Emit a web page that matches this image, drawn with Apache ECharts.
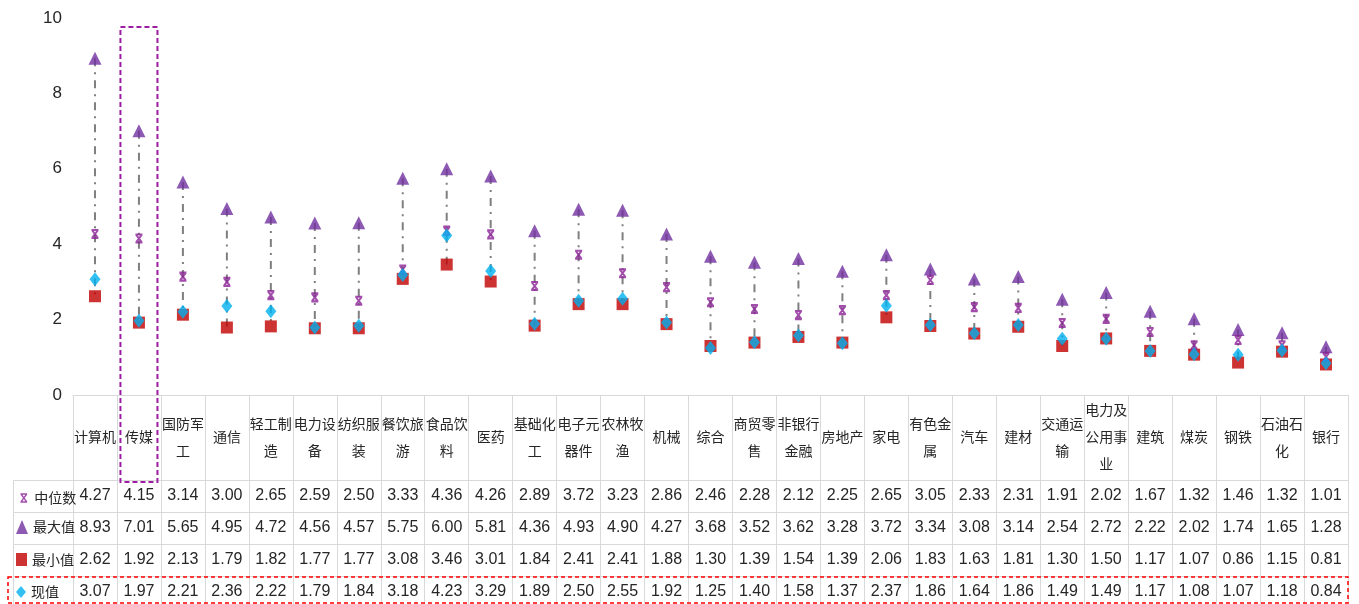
<!DOCTYPE html>
<html>
<head>
<meta charset="utf-8">
<script src="https://cdn.jsdelivr.net/npm/echarts@6/dist/echarts.min.js"></script>
<style>
html,body{margin:0;padding:0;background:#fff;}
#main{width:1359px;height:604px;}
</style>
</head>
<body>
<div id="main"></div>
<script>
const categories = ['计算机','传媒','国防军工','通信','轻工制造','电力设备','纺织服装','餐饮旅游','食品饮料','医药','基础化工','电子元器件','农林牧渔','机械','综合','商贸零售','非银行金融','房地产','家电','有色金属','汽车','建材','交通运输','电力及公用事业','建筑','煤炭','钢铁','石油石化','银行'];
const medianV = [4.27,4.15,3.14,3.00,2.65,2.59,2.50,3.33,4.36,4.26,2.89,3.72,3.23,2.86,2.46,2.28,2.12,2.25,2.65,3.05,2.33,2.31,1.91,2.02,1.67,1.32,1.46,1.32,1.01];
const maxV = [8.93,7.01,5.65,4.95,4.72,4.56,4.57,5.75,6.00,5.81,4.36,4.93,4.90,4.27,3.68,3.52,3.62,3.28,3.72,3.34,3.08,3.14,2.54,2.72,2.22,2.02,1.74,1.65,1.28];
const minV = [2.62,1.92,2.13,1.79,1.82,1.77,1.77,3.08,3.46,3.01,1.84,2.41,2.41,1.88,1.30,1.39,1.54,1.39,2.06,1.83,1.63,1.81,1.30,1.50,1.17,1.07,0.86,1.15,0.81];
const currentV = [3.07,1.97,2.21,2.36,2.22,1.79,1.84,3.18,4.23,3.29,1.89,2.50,2.55,1.92,1.25,1.40,1.58,1.37,2.37,1.86,1.64,1.86,1.49,1.49,1.17,1.08,1.07,1.18,0.84];
const yTicks = [0,2,4,6,8,10];
const rowNames = ['中位数','最大值','最小值','现值'];
const highlightCategory = '传媒';

const NUM_FONT = '"Liberation Sans Narrow","Arial Narrow","Liberation Sans",Arial,sans-serif';
const CJK_FONT = '"Noto Sans CJK SC","Noto Sans CJK JP",sans-serif';
const GRID_LINE = '#d9d9d9';
const TXT = '#262626';
const MED_COLOR = '#8B1F96';

function wrap3(s){ let out=[]; for(let i=0;i<s.length;i+=3) out.push(s.slice(i,i+3)); return out.join('\n'); }
const fmt = v => v.toFixed(2);

const medianSymbol = 'path://M0,0 L10,0 M0,12 L10,12 M1,0.5 L9,11.5 M9,0.5 L1,11.5';

const rows = [medianV, maxV, minV, currentV];
const valueAxes = rows.map((arr, i) => ({
  type: 'category',
  gridIndex: 0,
  position: 'bottom',
  offset: 85 + 32 * i,
  data: arr.map(fmt),
  axisLine: {show: true, lineStyle: {color: GRID_LINE, width: 1}},
  axisTick: {show: false},
  axisLabel: {interval: 0, margin: 16, verticalAlign: 'middle', fontFamily: NUM_FONT, fontSize: 16, color: TXT}
}));

const legendIcons = [
  {icon: medianSymbol, itemStyle: {color: 'none', borderColor: MED_COLOR, borderWidth: 1.5}, w: 7, h: 8},
  {icon: 'triangle', itemStyle: {color: '#7030A0'}, w: 12, h: 14},
  {icon: 'rect', itemStyle: {color: '#C00000'}, w: 11, h: 13},
  {icon: 'diamond', itemStyle: {color: '#00B0F0'}, w: 10, h: 12}
];
const legends = rowNames.map((name, i) => ({
  orient: 'horizontal',
  left: 16 + (i === 0 ? 2 : 0),
  top: 604 - 209 + 85 + 32 * i + 16 - legendIcons[i].h / 2 - 1,
  padding: 0,
  itemWidth: legendIcons[i].w, itemHeight: legendIcons[i].h,
  textStyle: {fontFamily: CJK_FONT, fontSize: 14, color: TXT, padding: [0, 0, 0, i === 0 ? 2 : 0]},
  selectedMode: false,
  data: [{name: name, icon: legendIcons[i].icon, itemStyle: legendIcons[i].itemStyle}]
}));

const chart = echarts.init(document.getElementById('main'), null, {renderer: 'canvas'});
const option = {
  animation: false,
  backgroundColor: '#fff',
  grid: {left: 73, right: 11, top: 18, bottom: 209, containLabel: false},
  legend: legends,
  xAxis: [{
    type: 'category',
    gridIndex: 0,
    data: categories,
    boundaryGap: true,
    axisLine: {show: true, lineStyle: {color: GRID_LINE, width: 1}},
    axisTick: {show: true, interval: 0, length: 209, lineStyle: {color: GRID_LINE, width: 1}},
    axisLabel: {interval: 0, margin: 42, verticalAlign: 'middle', fontFamily: CJK_FONT, fontSize: 14, lineHeight: 27, color: TXT, formatter: v => wrap3(v)}
  }].concat(valueAxes),
  yAxis: {
    type: 'value',
    min: 0, max: 10, interval: 2,
    axisLine: {show: false},
    axisTick: {show: false},
    splitLine: {show: false},
    axisLabel: {margin: 11, fontFamily: NUM_FONT, fontSize: 17, color: TXT,
      formatter: v => yTicks.includes(v) ? String(v) : ''}
  },
  series: [
    {
      type: 'custom',
      name: 'range',
      z: 1,
      data: maxV.map((m, i) => [i, m, minV[i]]),
      encode: {x: 0, y: [1, 2]},
      renderItem: function (params, api) {
        const p1 = api.coord([api.value(0), api.value(1)]);
        const p2 = api.coord([api.value(0), api.value(2)]);
        return {
          type: 'line',
          shape: {x1: p1[0], y1: p1[1], x2: p2[0], y2: p2[1]},
          style: {stroke: '#7f7f7f', lineWidth: 2, lineDash: [8, 6, 2, 6]}
        };
      }
    },
    {type: 'scatter', name: '最大值', z: 2, data: maxV, symbol: 'triangle', symbolSize: [13, 13], itemStyle: {color: '#7030A0'}},
    {type: 'scatter', name: '最小值', z: 3, data: minV, symbol: 'rect', symbolSize: [12, 12], itemStyle: {color: '#C00000'}},
    {type: 'scatter', name: '中位数', z: 4, data: medianV, symbol: medianSymbol, symbolSize: [7, 8], itemStyle: {color: 'none', borderColor: MED_COLOR, borderWidth: 2}},
    {type: 'scatter', name: '现值', z: 5, data: currentV, symbol: 'diamond', symbolSize: [11, 14], itemStyle: {color: '#00B0F0'}}
  ]
};
chart.setOption(option);

// annotation boxes and the label column borders of the table
const hi = categories.indexOf(highlightCategory);
const cx = chart.convertToPixel({xAxisIndex: 0}, hi);
const gridLeft = 73, gridRight = 1359 - 11, axisY = 604 - 209;
const colLeft = 13;
const gLines = [];
for (let i = 0; i < 4; i++) {
  const y = axisY + 85 + 32 * i + 0.5;
  gLines.push({type: 'line', shape: {x1: colLeft, y1: y, x2: gridLeft, y2: y}, style: {stroke: GRID_LINE, lineWidth: 1}, z: 5});
}
gLines.push({type: 'line', shape: {x1: colLeft + 0.5, y1: axisY + 85, x2: colLeft + 0.5, y2: 604}, style: {stroke: GRID_LINE, lineWidth: 1}, z: 5});
gLines.push({type: 'rect', shape: {x: cx - 18.5, y: 27, width: 37, height: 455}, style: {fill: 'none', stroke: '#9B1FA0', lineWidth: 2, lineDash: [5, 3]}, z: 10});
gLines.push({type: 'rect', shape: {x: 8, y: 577, width: gridRight - 8, height: 26}, style: {fill: 'none', stroke: '#FF0000', lineWidth: 1.5, lineDash: [4, 3]}, z: 10});
chart.setOption({graphic: gLines});
</script>
</body>
</html>
